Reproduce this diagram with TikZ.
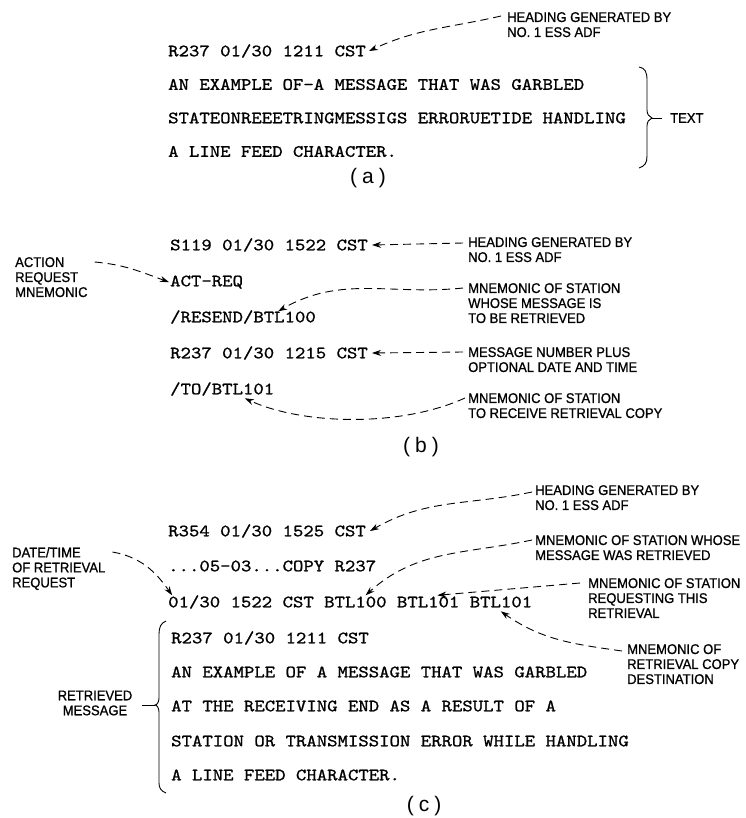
\documentclass[tikz,border=0pt]{standalone}
\usepackage{fontspec}
\newfontfamily\labfont{Liberation Sans}[FakeStretch=0.93,FakeBold=0.9]
\newfontfamily\capfont{Liberation Sans}
\newfontfamily\twfont{lmmono10-regular.otf}[FakeStretch=1.145,FakeBold=1]
\usetikzlibrary{arrows.meta,calc}
\def\twp{10.4}
\begin{document}
\begin{tikzpicture}[x=1pt,y=1pt,
  tw/.style={font=\twfont\fontsize{17.3}{20}\selectfont,anchor=base west,inner sep=0pt},
  lab/.style={font=\labfont\fontsize{14}{15}\selectfont,align=left,anchor=north west,inner sep=0pt},
  capn/.style={font=\capfont\fontsize{21}{24}\selectfont,inner sep=0pt},
  da/.style={line width=0.9pt,dash pattern=on 8pt off 5pt,-{Stealth[length=9pt,width=6pt]}},
  br/.style={line width=0.9pt}]
\fill[white] (0,0) rectangle (745,-818);
\useasboundingbox (0,0) rectangle (745,-818);

% ---------------- (a)
\node[tw] (a1) at (168,-56.3) {R237 01/30 1211 CST};
\node[tw] (a2) at (168,-89.8) {AN EXAMPLE OF-A MESSAGE THAT WAS GARBLED};
\node[tw] (a3) at (168,-123.3) {STATEONREEETRINGMESSIGS ERRORUETIDE HANDLING};
\node[tw] (a4) at (168,-156.8) {A LINE FEED CHARACTER.};
\node[capn] (acap) at (368,-178) {(\hspace{5pt}a\hspace{5pt})};
\node[lab] (ah) at (507,-12) {HEADING GENERATED BY\\NO. 1 ESS ADF};
\draw[da] ([xshift=-6pt,yshift=-4pt]ah.north west) to[out=193,in=25] ([xshift=3pt]a1.east);
\draw[br] (639,-67) .. controls (645,-68) and (647,-72) .. (647,-80) -- (647,-110)
  .. controls (647,-114) and (649,-117) .. (652,-118) coordinate (atip)
  .. controls (649,-119) and (647,-122) .. (647,-126) -- (647,-156)
  .. controls (647,-163) and (645,-166) .. (639,-168);
\node[lab,anchor=west] (atext) at (670,-118) {TEXT};
\draw[br] (atip) -- ([xshift=-8pt]atext.west);

% ---------------- (b)
\node[tw] (b1) at (170,-250.3) {S119 01/30 1522 CST};
\node[tw] (b2) at (170,-286.3) {ACT-REQ};
\node[tw] (b3) at (170,-322.3) {/RESEND/BTL100};
\node[tw] (b4) at (170,-358.3) {R237 01/30 1215 CST};
\node[tw] (b5) at (170,-394.3) {/TO/BTL101};
\node[capn] (bcap) at (421,-447) {(\hspace{5pt}b\hspace{5pt})};
\node[lab] (bh) at (468,-237) {HEADING GENERATED BY\\NO. 1 ESS ADF};
\node[lab] (bm1) at (468,-283) {MNEMONIC OF STATION\\WHOSE MESSAGE IS\\TO BE RETRIEVED};
\node[lab] (bm2) at (468,-347) {MESSAGE NUMBER PLUS\\OPTIONAL DATE AND TIME};
\node[lab] (bm3) at (468,-393) {MNEMONIC OF STATION\\TO RECEIVE RETRIEVAL COPY};
\node[lab] (bact) at (15,-257) {ACTION\\REQUEST\\MNEMONIC};
\draw[da] ([xshift=-5pt,yshift=-6pt]bh.north west) -- ([xshift=4pt]b1.east);
\draw[da] ([xshift=-5pt,yshift=-5pt]bm1.north west) to[out=186,in=30]
  ($(b3.base west)+(10.4*\twp,11)$);
\draw[da] ([xshift=-5pt,yshift=-5pt]bm2.north west) -- ([xshift=4pt]b4.east);
\draw[da] ([xshift=-3pt,yshift=-5pt]bm3.north west) .. controls +(-66,-30) and +(56,-26) ..
  ($(b5.base west)+(7.2*\twp,-4)$);
\draw[da] ([xshift=7pt,yshift=-5pt]bact.north east) to[out=-5,in=160] ([xshift=-1pt]b2.west);

% ---------------- (c)
\node[tw] (c1) at (168,-536.3) {R354 01/30 1525 CST};
\node[tw] (c2) at (168,-571.3) {...05-03...COPY R237};
\node[tw] (c3) at (168,-607.3) {01/30 1522 CST BTL100 BTL101 BTL101};
\node[tw] (c4) at (171,-643.3) {R237 01/30 1211 CST};
\node[tw] (c5) at (171,-677.3) {AN EXAMPLE OF A MESSAGE THAT WAS GARBLED};
\node[tw] (c6) at (171,-711.3) {AT THE RECEIVING END AS A RESULT OF A};
\node[tw] (c7) at (171,-746.3) {STATION OR TRANSMISSION ERROR WHILE HANDLING};
\node[tw] (c8) at (171,-780.3) {A LINE FEED CHARACTER.};
\node[capn] (ccap) at (424,-806) {(\hspace{5pt}c\hspace{5pt})};
\node[lab] (ch1) at (535,-485) {HEADING GENERATED BY\\NO. 1 ESS ADF};
\node[lab] (ch2) at (535,-535) {MNEMONIC OF STATION WHOSE\\MESSAGE WAS RETRIEVED};
\node[lab] (ch3) at (588,-578) {MNEMONIC OF STATION\\REQUESTING THIS\\RETRIEVAL};
\node[lab] (ch4) at (627,-644) {MNEMONIC OF\\RETRIEVAL COPY\\DESTINATION};
\node[lab] (cdt) at (12,-547) {DATE/TIME\\OF RETRIEVAL\\REQUEST};
\node[lab,align=center,anchor=center] (cret) at (95,-703) {RETRIEVED\\MESSAGE};
\draw[da] ([xshift=-3pt,yshift=-7pt]ch1.north west) to[out=192,in=30] ([xshift=4pt]c1.east);
\draw[da] ([xshift=-3pt,yshift=-5pt]ch2.north west) to[out=192,in=42]
  ($(c3.base west)+(19*\twp,12)$);
\draw[da] ([xshift=-8pt,yshift=-5pt]ch3.north west) to[out=185,in=5]
  ($(c3.base west)+(25.9*\twp,12)$);
\draw[da] ([xshift=-5pt,yshift=-7pt]ch4.north west) to[out=172,in=-35]
  ($(c3.base west)+(32*\twp,-4)$);
\draw[da] ([xshift=7pt,yshift=-5pt]cdt.north east) to[out=-10,in=125]
  ($(c3.base west)+(0.4*\twp,12)$);
\draw[br] (166,-621) .. controls (161,-623) and (159,-627) .. (159,-634) -- (159,-698)
  .. controls (159,-702) and (157,-705) .. (155,-705) coordinate (ctip)
  .. controls (157,-705) and (159,-708) .. (159,-712) -- (159,-783)
  .. controls (159,-788) and (161,-791) .. (166,-793);
\draw[br] (ctip) -- ([xshift=10pt]cret.east |- ctip);
\end{tikzpicture}
\end{document}
